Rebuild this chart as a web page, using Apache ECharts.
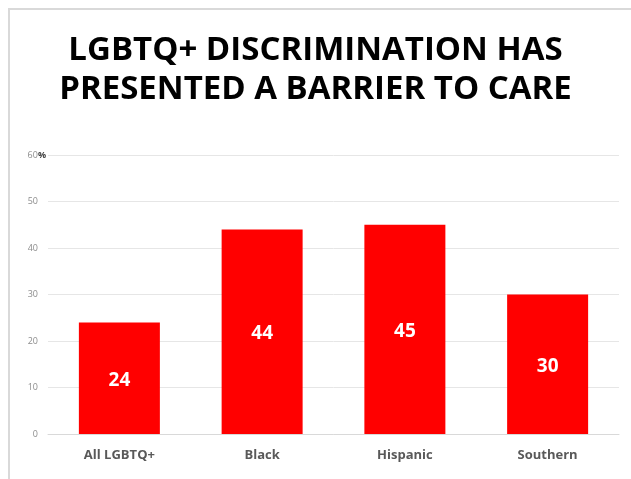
<!DOCTYPE html>
<html>
<head>
<meta charset="utf-8">
<script src="https://cdn.jsdelivr.net/npm/echarts@6/dist/echarts.min.js"></script>
<style>
  html, body { margin: 0; padding: 0; background: #fff; }
  #main { width: 631px; height: 479px; }
  .frame {
    position: absolute; left: 8px; top: 8px; width: 640px; height: 480px;
    border-left: 2px solid #d9d9d9; border-top: 2px solid #d9d9d9;
    pointer-events: none;
  }
</style>
</head>
<body>
<div class="frame"></div>
<div id="main"></div>
<script>
// 数据
const categories = ['All LGBTQ+', 'Black', 'Hispanic', 'Southern']
const values = [24, 44, 45, 30]
const titleLines = ['LGBTQ+ DISCRIMINATION HAS', 'PRESENTED A BARRIER TO CARE']

const myChart = echarts.init(document.getElementById('main'))

const option = {
  animation: false,
  title: {
    text: titleLines.join('\n'),
    left: 'center',
    top: 26,
    textStyle: {
      fontFamily: 'Open Sans',
      fontWeight: 'bold',
      fontSize: 33,
      lineHeight: 39,
      color: '#000',
    },
  },
  grid: {
    left: 48,
    right: 12,
    top: 155,
    bottom: 45,
    containLabel: false,
  },
  xAxis: {
    type: 'category',
    data: categories,
    axisLine: { lineStyle: { color: '#d9d9d9', width: 1 } },
    axisTick: { show: false },
    axisLabel: {
      color: '#595959',
      fontFamily: 'Open Sans',
      fontWeight: 'bold',
      fontSize: 13,
      margin: 15,
    },
  },
  yAxis: {
    type: 'value',
    min: 0,
    max: 60,
    interval: 10,
    axisLine: { show: false },
    axisTick: { show: false },
    splitLine: { lineStyle: { color: '#e6e6e6', width: 1 } },
    axisLabel: {
      color: '#8c8c8c',
      fontFamily: 'Open Sans',
      fontSize: 9,
      margin: 2,
      formatter: function (v) {
        // 顶部刻度带百分号，其余留出同宽空位
        return v === 60 ? '60{p|%}' : v + '{s|}'
      },
      rich: {
        p: { color: '#404040', fontWeight: 'bold', fontSize: 9, fontFamily: 'Open Sans' },
        s: { width: 8 },
      },
    },
  },
  series: [
    {
      type: 'bar',
      data: values,
      barWidth: 81,
      itemStyle: { color: '#ff0000' },
      label: {
        show: true,
        position: 'inside',
        offset: [0, 2],
        color: '#fff',
        fontFamily: 'Open Sans',
        fontWeight: 'bold',
        fontSize: 19,
      },
    },
  ],
}

myChart.setOption(option)
</script>
</body>
</html>
